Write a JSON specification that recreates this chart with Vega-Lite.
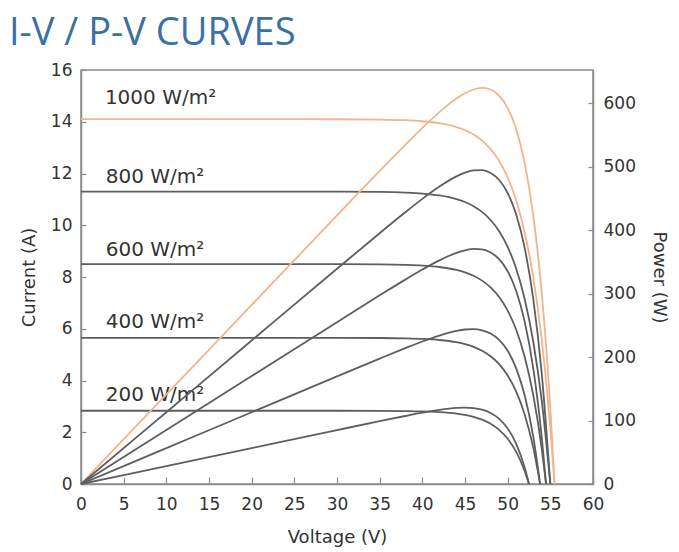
{
  "$schema": "https://vega.github.io/schema/vega-lite/v6.json",
  "autosize": {"type": "none"},
  "width": 512,
  "height": 414,
  "padding": {"left": 81, "top": 70, "right": 86, "bottom": 68},
  "background": "white",
  "title": {
    "text": "I-V / P-V CURVES",
    "anchor": "start",
    "frame": "group",
    "dx": -72,
    "dy": 33,
    "offset": 11,
    "baseline": "alphabetic",
    "font": "Open Sans",
    "fontSize": 38,
    "fontWeight": "normal",
    "color": "#3b70a6"
  },
  "config": {
    "font": "DejaVu Sans",
    "view": {"stroke": "#8c8c8c", "strokeWidth": 1.5},
    "axis": {
      "grid": false,
      "labelFlush": false,
      "domainColor": "#8c8c8c",
      "domainWidth": 1.5,
      "tickColor": "#8c8c8c",
      "tickWidth": 1.2,
      "labelFont": "DejaVu Sans",
      "labelFontSize": 17,
      "labelColor": "#333333",
      "titleFont": "DejaVu Sans",
      "titleFontSize": 18,
      "titleFontWeight": "normal",
      "titleColor": "#333333"
    }
  },
  "datasets": {
    "curves": [
      {"irr": "1000", "v": 0, "i": 14.1, "p": 0},
      {"irr": "1000", "v": 10, "i": 14.1, "p": 141},
      {"irr": "1000", "v": 20, "i": 14.1, "p": 282},
      {"irr": "1000", "v": 30, "i": 14.097, "p": 422.9},
      {"irr": "1000", "v": 35, "i": 14.085, "p": 493},
      {"irr": "1000", "v": 38, "i": 14.059, "p": 534.2},
      {"irr": "1000", "v": 40, "i": 14.019, "p": 560.8},
      {"irr": "1000", "v": 42, "i": 13.943, "p": 585.6},
      {"irr": "1000", "v": 44, "i": 13.795, "p": 607},
      {"irr": "1000", "v": 45, "i": 13.674, "p": 615.3},
      {"irr": "1000", "v": 46, "i": 13.506, "p": 621.3},
      {"irr": "1000", "v": 47, "i": 13.271, "p": 623.7},
      {"irr": "1000", "v": 48, "i": 12.943, "p": 621.3},
      {"irr": "1000", "v": 49, "i": 12.485, "p": 611.8},
      {"irr": "1000", "v": 50, "i": 11.846, "p": 592.3},
      {"irr": "1000", "v": 51, "i": 10.954, "p": 558.6},
      {"irr": "1000", "v": 52, "i": 9.709, "p": 504.9},
      {"irr": "1000", "v": 53, "i": 7.972, "p": 422.5},
      {"irr": "1000", "v": 54, "i": 5.548, "p": 299.6},
      {"irr": "1000", "v": 55, "i": 2.165, "p": 119.1},
      {"irr": "1000", "v": 55.5, "i": 0, "p": 0},

      {"irr": "800", "v": 0, "i": 11.3, "p": 0},
      {"irr": "800", "v": 10, "i": 11.3, "p": 113},
      {"irr": "800", "v": 20, "i": 11.3, "p": 226},
      {"irr": "800", "v": 30, "i": 11.297, "p": 338.9},
      {"irr": "800", "v": 35, "i": 11.286, "p": 395},
      {"irr": "800", "v": 38, "i": 11.261, "p": 427.9},
      {"irr": "800", "v": 40, "i": 11.224, "p": 449},
      {"irr": "800", "v": 42, "i": 11.152, "p": 468.4},
      {"irr": "800", "v": 44, "i": 11.011, "p": 484.5},
      {"irr": "800", "v": 45, "i": 10.897, "p": 490.4},
      {"irr": "800", "v": 46, "i": 10.737, "p": 493.9},
      {"irr": "800", "v": 47, "i": 10.515, "p": 494.2},
      {"irr": "800", "v": 48, "i": 10.204, "p": 489.8},
      {"irr": "800", "v": 49, "i": 9.771, "p": 478.8},
      {"irr": "800", "v": 50, "i": 9.166, "p": 458.3},
      {"irr": "800", "v": 51, "i": 8.321, "p": 424.4},
      {"irr": "800", "v": 52, "i": 7.143, "p": 371.4},
      {"irr": "800", "v": 53, "i": 5.498, "p": 291.4},
      {"irr": "800", "v": 54, "i": 3.203, "p": 173},
      {"irr": "800", "v": 55, "i": 0, "p": 0},

      {"irr": "600", "v": 0, "i": 8.5, "p": 0},
      {"irr": "600", "v": 10, "i": 8.5, "p": 85},
      {"irr": "600", "v": 20, "i": 8.5, "p": 170},
      {"irr": "600", "v": 30, "i": 8.498, "p": 254.9},
      {"irr": "600", "v": 35, "i": 8.49, "p": 297.1},
      {"irr": "600", "v": 38, "i": 8.471, "p": 321.9},
      {"irr": "600", "v": 40, "i": 8.443, "p": 337.7},
      {"irr": "600", "v": 42, "i": 8.386, "p": 352.2},
      {"irr": "600", "v": 44, "i": 8.272, "p": 364},
      {"irr": "600", "v": 45, "i": 8.179, "p": 368},
      {"irr": "600", "v": 46, "i": 8.047, "p": 370.2},
      {"irr": "600", "v": 47, "i": 7.86, "p": 369.4},
      {"irr": "600", "v": 48, "i": 7.597, "p": 364.6},
      {"irr": "600", "v": 49, "i": 7.225, "p": 354},
      {"irr": "600", "v": 50, "i": 6.7, "p": 335},
      {"irr": "600", "v": 51, "i": 5.959, "p": 303.9},
      {"irr": "600", "v": 52, "i": 4.912, "p": 255.4},
      {"irr": "600", "v": 53, "i": 3.436, "p": 182.1},
      {"irr": "600", "v": 54, "i": 1.345, "p": 72.6},
      {"irr": "600", "v": 54.5, "i": 0, "p": 0},

      {"irr": "400", "v": 0, "i": 5.65, "p": 0},
      {"irr": "400", "v": 10, "i": 5.65, "p": 56.5},
      {"irr": "400", "v": 20, "i": 5.65, "p": 113},
      {"irr": "400", "v": 30, "i": 5.649, "p": 169.5},
      {"irr": "400", "v": 35, "i": 5.643, "p": 197.5},
      {"irr": "400", "v": 38, "i": 5.63, "p": 213.9},
      {"irr": "400", "v": 40, "i": 5.609, "p": 224.4},
      {"irr": "400", "v": 42, "i": 5.566, "p": 233.8},
      {"irr": "400", "v": 44, "i": 5.479, "p": 241.1},
      {"irr": "400", "v": 45, "i": 5.406, "p": 243.3},
      {"irr": "400", "v": 46, "i": 5.302, "p": 243.9},
      {"irr": "400", "v": 47, "i": 5.152, "p": 242.1},
      {"irr": "400", "v": 48, "i": 4.938, "p": 237},
      {"irr": "400", "v": 49, "i": 4.633, "p": 227},
      {"irr": "400", "v": 50, "i": 4.196, "p": 209.8},
      {"irr": "400", "v": 51, "i": 3.571, "p": 182.1},
      {"irr": "400", "v": 52, "i": 2.68, "p": 139.4},
      {"irr": "400", "v": 53, "i": 1.404, "p": 74.4},
      {"irr": "400", "v": 53.8, "i": 0, "p": 0},

      {"irr": "200", "v": 0, "i": 2.83, "p": 0},
      {"irr": "200", "v": 10, "i": 2.83, "p": 28.3},
      {"irr": "200", "v": 20, "i": 2.83, "p": 56.6},
      {"irr": "200", "v": 30, "i": 2.83, "p": 84.9},
      {"irr": "200", "v": 35, "i": 2.827, "p": 98.9},
      {"irr": "200", "v": 38, "i": 2.819, "p": 107.1},
      {"irr": "200", "v": 40, "i": 2.807, "p": 112.3},
      {"irr": "200", "v": 42, "i": 2.78, "p": 116.8},
      {"irr": "200", "v": 44, "i": 2.722, "p": 119.8},
      {"irr": "200", "v": 45, "i": 2.672, "p": 120.2},
      {"irr": "200", "v": 46, "i": 2.598, "p": 119.5},
      {"irr": "200", "v": 47, "i": 2.489, "p": 117},
      {"irr": "200", "v": 48, "i": 2.329, "p": 111.8},
      {"irr": "200", "v": 49, "i": 2.094, "p": 102.6},
      {"irr": "200", "v": 50, "i": 1.748, "p": 87.4},
      {"irr": "200", "v": 51, "i": 1.241, "p": 63.3},
      {"irr": "200", "v": 52, "i": 0.495, "p": 25.7},
      {"irr": "200", "v": 52.5, "i": 0, "p": 0}
    ],
    "labels": [
      {"irr": "1000", "text": "1000 W/m²", "v": 2.8, "i": 14.92},
      {"irr": "800", "text": "800 W/m²", "v": 2.9, "i": 11.88},
      {"irr": "600", "text": "600 W/m²", "v": 2.9, "i": 9.04},
      {"irr": "400", "text": "400 W/m²", "v": 2.9, "i": 6.27},
      {"irr": "200", "text": "200 W/m²", "v": 2.9, "i": 3.44}
    ]
  },
  "resolve": {"scale": {"y": "independent"}},
  "layer": [
    {
      "layer": [
        {
          "data": {"name": "curves"},
          "mark": {"type": "line", "interpolate": "monotone", "strokeWidth": 1.8},
          "encoding": {
            "x": {
              "field": "v",
              "type": "quantitative",
              "scale": {"domain": [0, 60], "nice": false},
              "axis": {
                "title": "Voltage (V)",
                "values": [0, 2.5, 5, 7.5, 10, 12.5, 15, 17.5, 20, 22.5, 25, 27.5, 30, 32.5, 35, 37.5, 40, 42.5, 45, 47.5, 50, 52.5, 55, 57.5, 60],
                "labelExpr": "datum.value % 5 === 0 ? datum.label : ''",
                "tickSize": {"condition": {"test": "datum.value % 5 === 0", "value": -7}, "value": -4},
                "labelPadding": 19,
                "titlePadding": 16
              }
            },
            "y": {
              "field": "i",
              "type": "quantitative",
              "scale": {"domain": [0, 16], "nice": false},
              "axis": {
                "title": "Current (A)",
                "orient": "left",
                "values": [0, 2, 4, 6, 8, 10, 12, 14, 16],
                "tickSize": -5,
                "labelPadding": 14,
                "titlePadding": 12
              }
            },
            "color": {
              "field": "irr",
              "type": "nominal",
              "scale": {"domain": ["1000", "800", "600", "400", "200"], "range": ["#f2b48a", "#5e5e5e", "#5e5e5e", "#5e5e5e", "#5e5e5e"]},
              "legend": null
            },
            "detail": {"field": "irr"}
          }
        },
        {
          "data": {"name": "labels"},
          "mark": {"type": "text", "align": "left", "baseline": "middle", "fontSize": 20, "color": "#333333"},
          "encoding": {
            "x": {"field": "v", "type": "quantitative"},
            "y": {"field": "i", "type": "quantitative"},
            "text": {"field": "text"}
          }
        }
      ]
    },
    {
      "data": {"name": "curves"},
      "mark": {"type": "line", "interpolate": "monotone", "strokeWidth": 1.8},
      "encoding": {
        "x": {"field": "v", "type": "quantitative"},
        "y": {
          "field": "p",
          "type": "quantitative",
          "scale": {"domain": [0, 652], "nice": false},
          "axis": {
            "title": "Power (W)",
            "orient": "right",
            "values": [0, 100, 200, 300, 400, 500, 600],
            "tickSize": -5,
            "labelPadding": 15,
            "titlePadding": 14
          }
        },
        "color": {
          "field": "irr",
          "type": "nominal",
          "scale": {"domain": ["1000", "800", "600", "400", "200"], "range": ["#f2b48a", "#5e5e5e", "#5e5e5e", "#5e5e5e", "#5e5e5e"]},
          "legend": null
        },
        "detail": {"field": "irr"}
      }
    }
  ]
}
